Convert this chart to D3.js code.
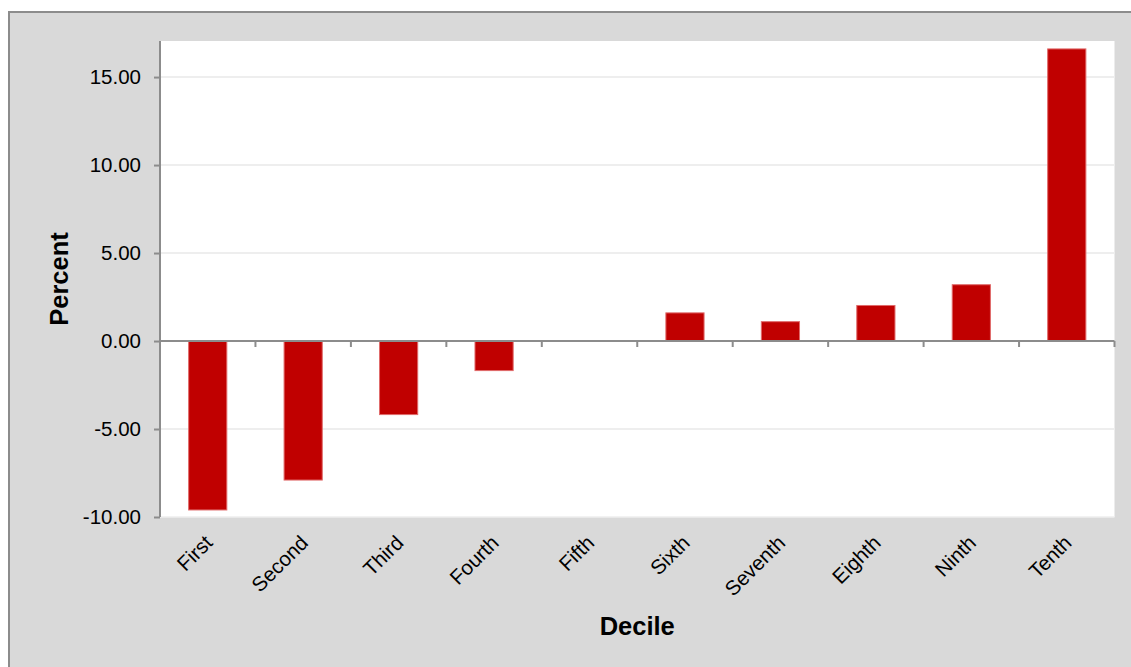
<!DOCTYPE html>
<html>
<head>
<meta charset="utf-8">
<script src="https://cdn.jsdelivr.net/npm/d3@7"></script>
<style>
  html, body { margin: 0; padding: 0; background: #ffffff; }
  svg { display: block; font-family: "Liberation Sans", Arial, sans-serif; }
</style>
</head>
<body>
<svg id="chart" width="1131" height="667"></svg>
<script>
// ---- data ----
const categories = ["First", "Second", "Third", "Fourth", "Fifth", "Sixth", "Seventh", "Eighth", "Ninth", "Tenth"];
const values = [-9.6, -7.9, -4.18, -1.68, 0.0, 1.6, 1.1, 2.02, 3.2, 16.6];
const yTicks = [-10, -5, 0, 5, 10, 15];
const xTitle = "Decile";
const yTitle = "Percent";

// ---- layout ----
const W = 1131, H = 667;
const plot = { left: 160, top: 41, right: 1114.5, bottom: 517 };

const svg = d3.select("#chart");

// outer panel
svg.append("rect")
  .attr("x", 9).attr("y", 12)
  .attr("width", W + 10).attr("height", H + 10)
  .attr("fill", "#d9d9d9")
  .attr("stroke", "#8c8c8c")
  .attr("stroke-width", 2);

// plot area
svg.append("rect")
  .attr("x", plot.left).attr("y", plot.top)
  .attr("width", plot.right - plot.left).attr("height", plot.bottom - plot.top)
  .attr("fill", "#ffffff");

const x = d3.scaleBand()
  .domain(categories)
  .range([plot.left, plot.right])
  .paddingInner(0.6)
  .paddingOuter(0.3);

const y = d3.scaleLinear()
  .domain([-10, 17.05])
  .range([plot.bottom, plot.top]);

// gridlines
svg.append("g")
  .selectAll("line")
  .data(yTicks.filter(d => d !== 0 && d !== -10))
  .join("line")
  .attr("x1", plot.left).attr("x2", plot.right)
  .attr("y1", d => y(d)).attr("y2", d => y(d))
  .attr("stroke", "#eeeeee")
  .attr("stroke-width", 2);

// bottom edge line of plot
svg.append("line")
  .attr("x1", plot.left).attr("x2", plot.right)
  .attr("y1", plot.bottom).attr("y2", plot.bottom)
  .attr("stroke", "#eeeeee").attr("stroke-width", 1.5);

// bars
svg.append("g")
  .selectAll("rect")
  .data(categories.map((c, i) => ({ c, v: values[i] })))
  .join("rect")
  .attr("x", d => x(d.c))
  .attr("width", x.bandwidth())
  .attr("y", d => y(Math.max(0, d.v)))
  .attr("height", d => Math.abs(y(d.v) - y(0)))
  .attr("fill", "#c00000")
  .attr("stroke", d => d.v === 0 ? "none" : "#e06a6a")
  .attr("stroke-width", 1);

// y axis
const fmt = d => d3.format(".2f")(d).replace("\u2212", "-");
const yAxis = svg.append("g")
  .attr("transform", `translate(${plot.left},0)`)
  .call(d3.axisLeft(y).tickValues(yTicks).tickFormat(fmt).tickSize(6).tickPadding(13));
yAxis.select(".domain").remove();
yAxis.append("line")
  .attr("x1", 0).attr("x2", 0)
  .attr("y1", plot.top).attr("y2", plot.bottom)
  .attr("stroke", "#8c8c8c").attr("stroke-width", 2);
yAxis.selectAll(".tick line").attr("stroke", "#8c8c8c").attr("stroke-width", 2);
yAxis.selectAll(".tick text")
  .attr("fill", "#000")
  .style("font-size", "20.5px")
  .style("font-family", "'Liberation Sans', Arial, sans-serif");

// zero axis with category boundary ticks
const zeroG = svg.append("g");
zeroG.append("line")
  .attr("x1", plot.left).attr("x2", plot.right)
  .attr("y1", y(0)).attr("y2", y(0))
  .attr("stroke", "#8c8c8c").attr("stroke-width", 2);
const step = x.step();
zeroG.selectAll("line.bt")
  .data(categories)
  .join("line")
  .attr("class", "bt")
  .attr("x1", d => x(d) + x.bandwidth() / 2 + step / 2)
  .attr("x2", d => x(d) + x.bandwidth() / 2 + step / 2)
  .attr("y1", y(0)).attr("y2", y(0) + 6)
  .attr("stroke", "#8c8c8c").attr("stroke-width", 2);

// x category labels (rotated)
svg.append("g")
  .selectAll("text")
  .data(categories)
  .join("text")
  .attr("transform", d => `translate(${x(d) + x.bandwidth() / 2 + 1},${plot.bottom + 22}) rotate(-45)`)
  .attr("text-anchor", "end")
  .attr("dy", "0.35em")
  .style("font-size", "20.5px")
  .attr("fill", "#000")
  .text(d => d);

// axis titles
svg.append("text")
  .attr("x", (plot.left + plot.right) / 2)
  .attr("y", 635)
  .attr("text-anchor", "middle")
  .style("font-size", "25.5px")
  .style("font-weight", "bold")
  .attr("fill", "#000")
  .text(xTitle);

svg.append("text")
  .attr("transform", `translate(68,${(plot.top + plot.bottom) / 2}) rotate(-90)`)
  .attr("text-anchor", "middle")
  .style("font-size", "25.5px")
  .style("font-weight", "bold")
  .attr("fill", "#000")
  .text(yTitle);
</script>
</body>
</html>
